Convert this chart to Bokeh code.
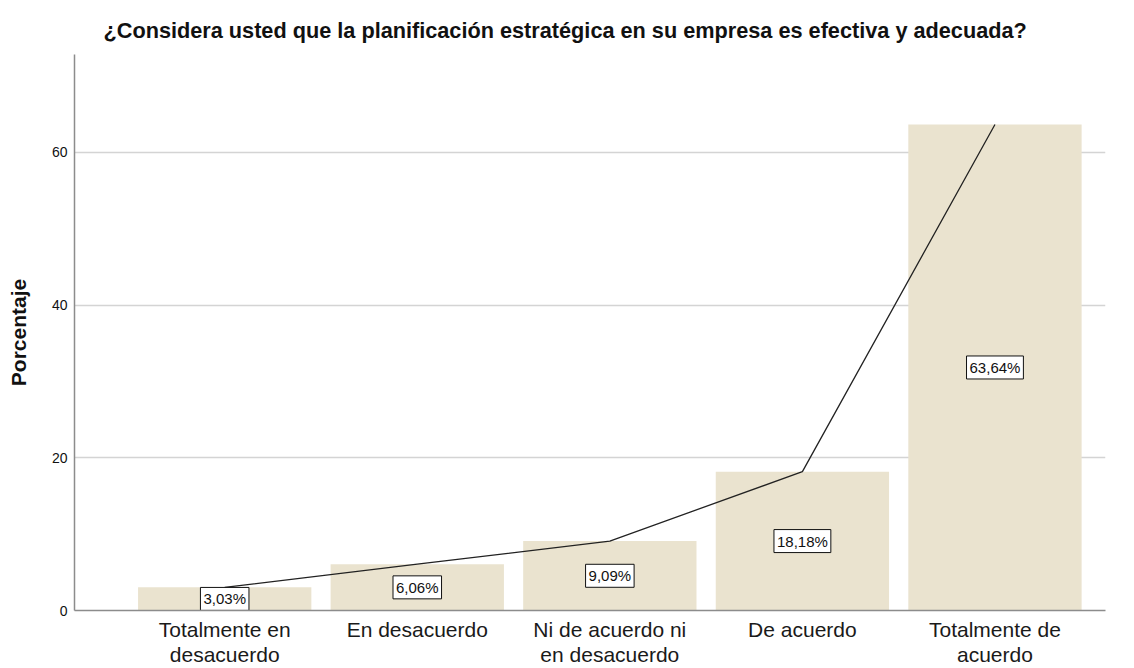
from bokeh.plotting import figure
from bokeh.models import Range1d, FixedTicker, ColumnDataSource
from bokeh.core.properties import value
from bokeh.embed import file_html
from bokeh.resources import INLINE

categories = ["Totalmente en\ndesacuerdo", "En desacuerdo", "Ni de acuerdo ni\nen desacuerdo",
              "De acuerdo", "Totalmente de\nacuerdo"]
percentages = [3.03, 6.06, 9.09, 18.18, 63.64]
y_ticks = [0, 20, 40, 60]
title_text = "¿Considera usted que la planificación estratégica en su empresa es efectiva y adecuada?"
y_label = "Porcentaje"

xs = list(range(len(categories)))
labels = [f"{v:.2f}%".replace(".", ",") for v in percentages]
src = ColumnDataSource(dict(x=xs, top=percentages, mid=[v / 2 for v in percentages],
                            label=labels))

FONT = "Liberation Sans"

p = figure(width=1134, height=668, output_backend="svg", toolbar_location=None,
           x_range=Range1d(-0.78, 4.574), y_range=Range1d(0, 72.8),
           min_border_left=74, min_border_right=29, min_border_top=54, min_border_bottom=58,
           title=title_text)
p.outline_line_color = None
p.background_fill_color = "white"
p.border_fill_color = "white"

p.title.text_font = FONT
p.title.text_font_size = "21.7px"
p.title.text_font_style = "bold"
p.title.text_color = "#111111"
p.title.align = "left"
p.title.offset = 29
p.title.standoff = 24

# x axis with category labels
p.xaxis.ticker = FixedTicker(ticks=xs)
p.xaxis.major_label_overrides = {i: c for i, c in zip(xs, categories)}
p.xaxis.axis_line_color = "#8c8c8c"
p.xaxis.axis_line_width = 1.5
p.xaxis.major_tick_line_color = None
p.xaxis.major_tick_out = 0
p.xaxis.major_tick_in = 0
p.xaxis.minor_tick_line_color = None
p.xaxis.major_label_text_font = FONT
p.xaxis.major_label_text_font_size = "21px"
p.xaxis.major_label_text_color = "#1a1a1a"
p.xaxis.major_label_text_line_height = 1.1
p.xaxis.major_label_standoff = 7

p.yaxis.ticker = FixedTicker(ticks=y_ticks)
p.yaxis.axis_line_color = "#8c8c8c"
p.yaxis.axis_line_width = 1.5
p.yaxis.major_tick_line_color = None
p.yaxis.major_tick_out = 0
p.yaxis.major_tick_in = 0
p.yaxis.minor_tick_line_color = None
p.yaxis.major_label_text_font = FONT
p.yaxis.major_label_text_font_size = "14px"
p.yaxis.major_label_text_color = "#111111"
p.yaxis.major_label_standoff = 7
p.yaxis.axis_label = y_label
p.yaxis.axis_label_text_font = FONT
p.yaxis.axis_label_text_font_size = "21px"
p.yaxis.axis_label_text_font_style = "bold"
p.yaxis.axis_label_text_color = "#111111"
p.yaxis.axis_label_standoff = 19

p.xgrid.visible = False
p.ygrid.ticker = FixedTicker(ticks=y_ticks)
p.ygrid.grid_line_color = "#d4d4d4"
p.ygrid.grid_line_width = 1.5

p.vbar(x="x", top="top", width=0.9, source=src, fill_color="#EAE3CF", line_color=None)
p.line(x="x", y="top", source=src, line_color="#222222", line_width=1.3)

p.text(x="x", y="mid", text="label", source=src, text_align="center",
       text_baseline="middle", text_font=value(FONT), text_font_size="15px",
       text_color="#111111", background_fill_color="white",
       border_line_color="#111111", border_line_width=1, padding=3)

open("out.html", "w").write(file_html(p, INLINE))
